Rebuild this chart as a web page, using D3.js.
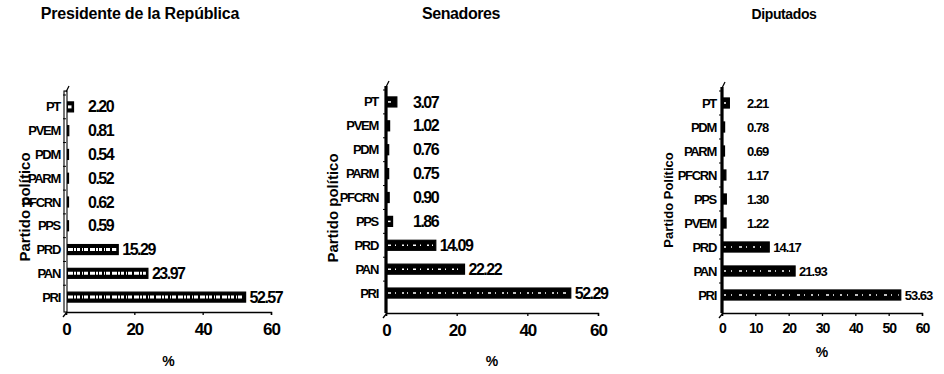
<!DOCTYPE html>
<html>
<head>
<meta charset="utf-8">
<script src="https://cdn.jsdelivr.net/npm/d3@7"></script>
<style>
	body{ margin:0; background:#fff; }
	svg{ display:block; }
	text{ fill:#000; }
</style>
</head>
<body>
<svg id="chart" width="944" height="374"></svg>
<script>
'use strict'

// datos
var presCats = ['PT', 'PVEM', 'PDM', 'PARM', 'PFCRN', 'PPS', 'PRD', 'PAN', 'PRI'];
var presVals = [2.20, 0.81, 0.54, 0.52, 0.62, 0.59, 15.29, 23.97, 52.57];

var senCats = ['PT', 'PVEM', 'PDM', 'PARM', 'PFCRN', 'PPS', 'PRD', 'PAN', 'PRI'];
var senVals = [3.07, 1.02, 0.76, 0.75, 0.90, 1.86, 14.09, 22.22, 52.29];

var dipCats = ['PT', 'PDM', 'PARM', 'PFCRN', 'PPS', 'PVEM', 'PRD', 'PAN', 'PRI'];
var dipVals = [2.21, 0.78, 0.69, 1.17, 1.30, 1.22, 14.17, 21.93, 53.63];

var wideTicks = [0, 20, 40, 60];
var fineTicks = [0, 10, 20, 30, 40, 50, 60];

var NARROW = '"Liberation Sans Narrow", "Arial Narrow", "Liberation Sans", Arial, sans-serif';
var SANS = '"Liberation Sans", Arial, sans-serif';

var svg = d3.select('#chart');

function drawPanel(p){
	var g = svg.append('g');

	var x = d3.scaleLinear().domain([0, 60]).range([p.x0, p.x1]);
	var y = d3.scaleBand().domain(p.cats).range([p.y0, p.y1]).paddingInner(0.58).paddingOuter(0.29);

	// titulo
	g.append('text')
		.attr('x', p.titleX)
		.attr('y', 19)
		.attr('text-anchor', 'middle')
		.attr('font-family', SANS)
		.attr('font-weight', 'bold')
		.attr('font-size', p.titleSize)
		.attr('letter-spacing', p.titleSpacing)
		.text(p.title);

	// eje x
	var xAxis = g.append('g')
		.attr('transform', `translate(0, ${p.axisY})`)
		.call(d3.axisBottom(x).tickValues(p.ticks).tickSize(3).tickPadding(p.tickPad));
	xAxis.select('.domain').attr('stroke', '#000').attr('stroke-width', 1.4);
	xAxis.selectAll('.tick line').attr('stroke', '#000').attr('stroke-width', 1.3);
	xAxis.selectAll('.tick text')
		.attr('font-family', NARROW)
		.attr('font-weight', 'bold')
		.attr('font-size', p.tickSize)
		.attr('letter-spacing', -1)
		.attr('fill', '#000');

	// barras: negras con veta blanca
	var bars = g.append('g');
	bars.selectAll('rect')
		.data(p.vals)
		.enter()
		.append('rect')
		.attr('x', x(0))
		.attr('y', function(d, i){ return y(p.cats[i]); })
		.attr('width', function(d){ return Math.max(x(d) - x(0), 2.5); })
		.attr('height', y.bandwidth())
		.attr('fill', '#000')
		.attr('stroke', '#000')
		.attr('stroke-width', 1.2);
	bars.selectAll('line')
		.data(p.vals.filter(function(d){ return d > 1.5; }))
		.enter()
		.append('line')
		.attr('x1', x(0) + 2)
		.attr('x2', function(d){ return x(d) - 2; })
		.attr('y1', function(d){ return y(p.cats[p.vals.indexOf(d)]) + y.bandwidth() / 2; })
		.attr('y2', function(d){ return y(p.cats[p.vals.indexOf(d)]) + y.bandwidth() / 2; })
		.attr('stroke', '#fff')
		.attr('stroke-width', p.streak)
		.attr('stroke-dasharray', p.dash);

	// eje y
	if(p.doubleAxis){
		g.append('rect')
			.attr('x', x(0) - 2).attr('y', p.y0 - 4)
			.attr('width', 3).attr('height', p.axisY - p.y0 + 4)
			.attr('fill', '#fff')
			.attr('stroke', '#000')
			.attr('stroke-width', 1.1);
	}else{
		g.append('line')
			.attr('x1', x(0)).attr('x2', x(0))
			.attr('y1', p.y0 - 4).attr('y2', p.axisY)
			.attr('stroke', '#000')
			.attr('stroke-width', 3.2);
	}
	g.append('line')
		.attr('x1', x(0)).attr('x2', x(0) + 3)
		.attr('y1', p.y0 - 3).attr('y2', p.y0 - 9)
		.attr('stroke', '#000')
		.attr('stroke-width', 1.3);
	g.append('line')
		.attr('x1', x(0) + 1).attr('x2', x(0) - 3)
		.attr('y1', p.axisY).attr('y2', p.axisY + 5)
		.attr('stroke', '#000')
		.attr('stroke-width', 1.3);
	g.append('g')
		.selectAll('line')
		.data(p.cats)
		.enter()
		.append('line')
		.attr('x1', x(0) - 3).attr('x2', x(0))
		.attr('y1', function(d){ return y(d) - y.step() * 0.29; })
		.attr('y2', function(d){ return y(d) - y.step() * 0.29; })
		.attr('stroke', '#000');

	// nombres de partido
	g.append('g')
		.selectAll('text')
		.data(p.cats)
		.enter()
		.append('text')
		.attr('x', x(0) - p.catGap)
		.attr('y', function(d){ return y(d) + y.bandwidth() / 2; })
		.attr('dy', '0.35em')
		.attr('text-anchor', 'end')
		.attr('font-family', NARROW)
		.attr('font-weight', 'bold')
		.attr('font-size', p.catSize)
		.attr('letter-spacing', -1.3)
		.text(function(d){ return d; });

	// valores
	g.append('g')
		.selectAll('text')
		.data(p.vals)
		.enter()
		.append('text')
		.attr('x', function(d){ return Math.max(x(d) + 4, x(0) + p.minLabel); })
		.attr('y', function(d, i){ return y(p.cats[i]) + y.bandwidth() / 2; })
		.attr('dy', '0.35em')
		.attr('font-family', NARROW)
		.attr('font-weight', 'bold')
		.attr('font-size', p.valSize)
		.attr('letter-spacing', p.valSpacing)
		.text(function(d){ return d3.format('.2f')(d); });

	// titulos de ejes
	g.append('text')
		.attr('transform', `translate(${p.yTitleX}, ${p.yTitleY}) rotate(-90)`)
		.attr('text-anchor', 'middle')
		.attr('font-family', SANS)
		.attr('font-weight', 'bold')
		.attr('font-size', p.yTitleSize)
		.text(p.yTitle);

	g.append('text')
		.attr('x', (p.x0 + p.x1) / 2)
		.attr('y', p.pctY)
		.attr('text-anchor', 'middle')
		.attr('font-family', SANS)
		.attr('font-weight', 'bold')
		.attr('font-size', 14)
		.text('%');
}

drawPanel({
	title: 'Presidente de la República', titleX: 140, titleSize: 16, titleSpacing: -0.2,
	cats: presCats, vals: presVals, ticks: wideTicks,
	x0: 66, x1: 271, y0: 95, y1: 309, axisY: 312,
	tickSize: 17, tickPad: 8, catSize: 13, catGap: 6, valSize: 16, valSpacing: -1.5, minLabel: 22,
	doubleAxis: true, streak: 3, dash: '5 1 2 1 3 2 1 1 4 2',
	yTitle: 'Partido político', yTitleX: 30, yTitleY: 207, yTitleSize: 15,
	pctY: 366
});

drawPanel({
	title: 'Senadores', titleX: 461, titleSize: 16, titleSpacing: -0.4,
	cats: senCats, vals: senVals, ticks: wideTicks,
	x0: 386, x1: 598, y0: 90, y1: 305, axisY: 313,
	tickSize: 17, tickPad: 8, catSize: 13, catGap: 8, valSize: 16, valSpacing: -1.5, minLabel: 27,
	doubleAxis: false, streak: 1.5, dash: '3 4 1 6 2 3 1 5',
	yTitle: 'Partido político', yTitleX: 338, yTitleY: 208, yTitleSize: 15,
	pctY: 366
});

drawPanel({
	title: 'Diputados', titleX: 784, titleSize: 14, titleSpacing: -0.4,
	cats: dipCats, vals: dipVals, ticks: fineTicks,
	x0: 722, x1: 922, y0: 91, y1: 307, axisY: 313,
	tickSize: 14, tickPad: 7, catSize: 13, catGap: 6, valSize: 13, valSpacing: -1, minLabel: 25,
	doubleAxis: false, streak: 1.5, dash: '2 5 1 7 3 4 1 6',
	yTitle: 'Partido Político', yTitleX: 673, yTitleY: 200, yTitleSize: 13,
	pctY: 357
});
</script>
</body>
</html>
